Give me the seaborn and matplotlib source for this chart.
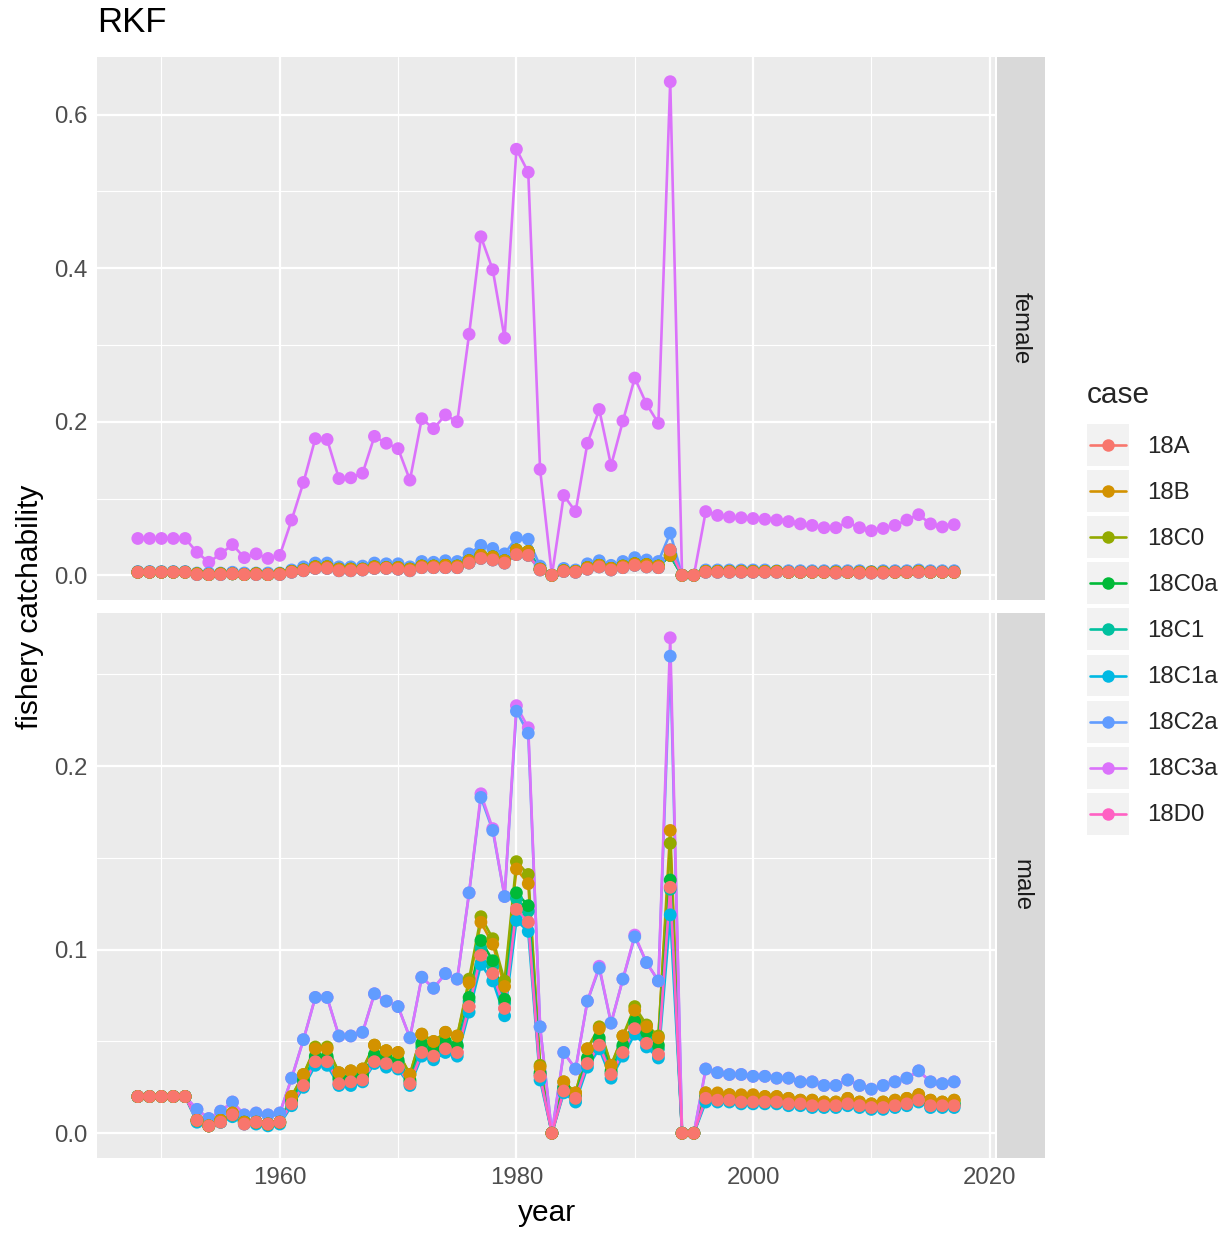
import numpy as np
import pandas as pd
import matplotlib
matplotlib.use("Agg")
import matplotlib.pyplot as plt
import seaborn as sns
from matplotlib.legend_handler import HandlerBase
from matplotlib.lines import Line2D
from matplotlib.patches import Rectangle
from matplotlib.ticker import FixedLocator

# años y casos
years = list(range(1948, 2018))
cases = ["18A", "18B", "18C0", "18C0a", "18C1", "18C1a", "18C2a", "18C3a", "18D0"]
colours = ["#F8766D", "#D39200", "#93AA00", "#00BA38", "#00C19F",
           "#00B9E3", "#619CFF", "#DB72FB", "#FF61C3"]

# hembras
f_18C3a = [0.048, 0.048, 0.048, 0.048, 0.048,
           0.030, 0.017, 0.028, 0.040, 0.023, 0.028, 0.022, 0.026,
           0.072, 0.121, 0.178, 0.177, 0.126, 0.127, 0.133, 0.181, 0.172, 0.165,
           0.124, 0.204, 0.191, 0.209, 0.200, 0.314, 0.441, 0.398, 0.309, 0.555,
           0.525, 0.138, 0.000, 0.104, 0.083, 0.172, 0.216, 0.143, 0.201, 0.257,
           0.223, 0.198, 0.643, 0.000, 0.000, 0.083, 0.078, 0.076, 0.075, 0.074,
           0.073, 0.072, 0.070, 0.067, 0.065, 0.062, 0.062, 0.069, 0.062, 0.058,
           0.061, 0.065, 0.072, 0.079, 0.067, 0.063, 0.066]
f_18C2a = [0.005, 0.005, 0.005, 0.005, 0.005,
           0.003, 0.003, 0.003, 0.004, 0.003, 0.003, 0.003, 0.003,
           0.007, 0.011, 0.016, 0.016, 0.011, 0.011, 0.012, 0.016, 0.015, 0.015,
           0.011, 0.018, 0.017, 0.019, 0.018, 0.028, 0.039, 0.035, 0.028, 0.049,
           0.047, 0.012, 0.000, 0.009, 0.007, 0.015, 0.019, 0.013, 0.018, 0.023,
           0.020, 0.018, 0.055, 0.000, 0.000, 0.007, 0.007, 0.007, 0.007, 0.007,
           0.007, 0.006, 0.006, 0.006, 0.006, 0.006, 0.006, 0.006, 0.006, 0.005,
           0.006, 0.006, 0.006, 0.007, 0.006, 0.006, 0.006]
f_18B = [0.004, 0.004, 0.004, 0.004, 0.004,
         0.002, 0.001, 0.002, 0.002, 0.001, 0.002, 0.001, 0.002,
         0.005, 0.007, 0.011, 0.011, 0.008, 0.008, 0.008, 0.011, 0.010, 0.010,
         0.008, 0.012, 0.012, 0.013, 0.012, 0.019, 0.026, 0.024, 0.019, 0.033,
         0.031, 0.008, 0.000, 0.006, 0.005, 0.010, 0.013, 0.009, 0.012, 0.015,
         0.014, 0.012, 0.026, 0.000, 0.000, 0.005, 0.005, 0.005, 0.005, 0.005,
         0.005, 0.005, 0.004, 0.004, 0.004, 0.004, 0.004, 0.004, 0.004, 0.004,
         0.004, 0.004, 0.004, 0.005, 0.004, 0.004, 0.004]
f_18A = [0.004, 0.004, 0.004, 0.004, 0.004,
         0.001, 0.001, 0.001, 0.002, 0.001, 0.001, 0.001, 0.001,
         0.004, 0.006, 0.009, 0.009, 0.006, 0.006, 0.007, 0.009, 0.009, 0.008,
         0.006, 0.010, 0.010, 0.010, 0.010, 0.016, 0.022, 0.020, 0.016, 0.027,
         0.026, 0.007, 0.000, 0.005, 0.004, 0.008, 0.011, 0.007, 0.010, 0.013,
         0.011, 0.010, 0.033, 0.000, 0.000, 0.004, 0.004, 0.004, 0.004, 0.004,
         0.004, 0.004, 0.004, 0.004, 0.004, 0.004, 0.003, 0.004, 0.003, 0.003,
         0.003, 0.004, 0.004, 0.004, 0.004, 0.004, 0.004]

# machos
m_18C3a = [0.020, 0.020, 0.020, 0.020, 0.020,
           0.013, 0.008, 0.012, 0.017, 0.010, 0.011, 0.010, 0.011,
           0.030, 0.051, 0.074, 0.074, 0.053, 0.053, 0.055, 0.076, 0.072, 0.069,
           0.052, 0.085, 0.079, 0.087, 0.084, 0.131, 0.185, 0.166, 0.129, 0.233,
           0.221, 0.058, 0.000, 0.044, 0.035, 0.072, 0.091, 0.060, 0.084, 0.108,
           0.093, 0.083, 0.270, 0.000, 0.000, 0.035, 0.033, 0.032, 0.032, 0.031,
           0.031, 0.030, 0.030, 0.028, 0.028, 0.026, 0.026, 0.029, 0.026, 0.024,
           0.026, 0.028, 0.030, 0.034, 0.028, 0.027, 0.028]
m_18C2a = [0.020, 0.020, 0.020, 0.020, 0.020,
           0.013, 0.008, 0.012, 0.017, 0.010, 0.011, 0.010, 0.011,
           0.030, 0.051, 0.074, 0.074, 0.053, 0.053, 0.055, 0.076, 0.072, 0.069,
           0.052, 0.085, 0.079, 0.087, 0.084, 0.131, 0.183, 0.165, 0.129, 0.230,
           0.218, 0.058, 0.000, 0.044, 0.035, 0.072, 0.090, 0.060, 0.084, 0.107,
           0.093, 0.083, 0.260, 0.000, 0.000, 0.035, 0.033, 0.032, 0.032, 0.031,
           0.031, 0.030, 0.030, 0.028, 0.028, 0.026, 0.026, 0.029, 0.026, 0.024,
           0.026, 0.028, 0.030, 0.034, 0.028, 0.027, 0.028]
m_18C0 = [0.020, 0.020, 0.020, 0.020, 0.020,
          0.007, 0.004, 0.007, 0.011, 0.006, 0.006, 0.005, 0.006,
          0.020, 0.032, 0.047, 0.047, 0.033, 0.034, 0.035, 0.048, 0.045, 0.044,
          0.032, 0.054, 0.050, 0.055, 0.053, 0.084, 0.118, 0.106, 0.083, 0.148,
          0.141, 0.037, 0.000, 0.028, 0.022, 0.046, 0.058, 0.037, 0.053, 0.069,
          0.059, 0.053, 0.158, 0.000, 0.000, 0.022, 0.021, 0.021, 0.020, 0.020,
          0.020, 0.020, 0.019, 0.018, 0.018, 0.017, 0.017, 0.019, 0.017, 0.016,
          0.017, 0.018, 0.019, 0.021, 0.018, 0.017, 0.018]
m_18B = [0.020, 0.020, 0.020, 0.020, 0.020,
         0.007, 0.004, 0.007, 0.011, 0.006, 0.006, 0.005, 0.006,
         0.020, 0.032, 0.046, 0.046, 0.033, 0.034, 0.035, 0.048, 0.045, 0.044,
         0.032, 0.054, 0.050, 0.055, 0.053, 0.082, 0.115, 0.103, 0.080, 0.144,
         0.136, 0.036, 0.000, 0.028, 0.022, 0.046, 0.057, 0.037, 0.053, 0.067,
         0.058, 0.052, 0.165, 0.000, 0.000, 0.022, 0.022, 0.021, 0.021, 0.021,
         0.020, 0.020, 0.019, 0.018, 0.018, 0.017, 0.017, 0.019, 0.017, 0.016,
         0.017, 0.018, 0.019, 0.021, 0.018, 0.017, 0.018]
m_18C0a = [0.020, 0.020, 0.020, 0.020, 0.020,
           0.007, 0.004, 0.007, 0.010, 0.006, 0.006, 0.005, 0.006,
           0.018, 0.029, 0.042, 0.042, 0.030, 0.030, 0.032, 0.043, 0.041, 0.040,
           0.029, 0.049, 0.046, 0.050, 0.048, 0.074, 0.105, 0.094, 0.073, 0.131,
           0.124, 0.033, 0.000, 0.025, 0.020, 0.041, 0.052, 0.034, 0.048, 0.061,
           0.055, 0.048, 0.138, 0.000, 0.000, 0.020, 0.020, 0.019, 0.019, 0.019,
           0.018, 0.018, 0.018, 0.017, 0.016, 0.016, 0.016, 0.017, 0.016, 0.015,
           0.015, 0.016, 0.017, 0.019, 0.016, 0.016, 0.016]
m_18C1 = [0.020, 0.020, 0.020, 0.020, 0.020,
          0.007, 0.004, 0.006, 0.010, 0.006, 0.006, 0.005, 0.006,
          0.017, 0.028, 0.041, 0.041, 0.029, 0.029, 0.031, 0.042, 0.040, 0.039,
          0.028, 0.047, 0.045, 0.049, 0.047, 0.072, 0.101, 0.091, 0.071, 0.128,
          0.121, 0.032, 0.000, 0.024, 0.019, 0.040, 0.050, 0.033, 0.047, 0.060,
          0.052, 0.046, 0.133, 0.000, 0.000, 0.019, 0.019, 0.018, 0.018, 0.018,
          0.017, 0.017, 0.017, 0.016, 0.016, 0.015, 0.015, 0.017, 0.015, 0.014,
          0.015, 0.016, 0.017, 0.018, 0.016, 0.015, 0.016]
m_18A = [0.020, 0.020, 0.020, 0.020, 0.020,
         0.007, 0.004, 0.006, 0.010, 0.005, 0.006, 0.005, 0.006,
         0.016, 0.026, 0.039, 0.039, 0.027, 0.028, 0.029, 0.039, 0.038, 0.036,
         0.027, 0.044, 0.042, 0.046, 0.044, 0.069, 0.097, 0.087, 0.068, 0.122,
         0.115, 0.031, 0.000, 0.023, 0.019, 0.038, 0.048, 0.032, 0.044, 0.057,
         0.049, 0.043, 0.134, 0.000, 0.000, 0.019, 0.018, 0.018, 0.017, 0.017,
         0.017, 0.017, 0.016, 0.016, 0.015, 0.015, 0.015, 0.016, 0.015, 0.014,
         0.014, 0.015, 0.016, 0.018, 0.015, 0.015, 0.015]
m_18C1a = [0.020, 0.020, 0.020, 0.020, 0.020,
           0.006, 0.004, 0.006, 0.009, 0.005, 0.005, 0.004, 0.005,
           0.015, 0.025, 0.037, 0.037, 0.026, 0.026, 0.028, 0.038, 0.036, 0.035,
           0.026, 0.042, 0.040, 0.044, 0.042, 0.066, 0.092, 0.083, 0.064, 0.116,
           0.110, 0.029, 0.000, 0.022, 0.017, 0.036, 0.046, 0.030, 0.042, 0.054,
           0.047, 0.041, 0.119, 0.000, 0.000, 0.017, 0.017, 0.017, 0.016, 0.016,
           0.016, 0.016, 0.015, 0.015, 0.014, 0.014, 0.014, 0.015, 0.014, 0.013,
           0.013, 0.014, 0.015, 0.017, 0.014, 0.014, 0.014]

female = {"18A": f_18A, "18B": f_18B, "18C0": f_18B, "18C0a": f_18B, "18C1": f_18B,
          "18C1a": f_18A, "18C2a": f_18C2a, "18C3a": f_18C3a, "18D0": f_18A}
male = {"18A": m_18A, "18B": m_18B, "18C0": m_18C0, "18C0a": m_18C0a, "18C1": m_18C1,
        "18C1a": m_18C1a, "18C2a": m_18C2a, "18C3a": m_18C3a, "18D0": m_18A}

rows = []
for sex, tabla in (("female", female), ("male", male)):
    for case in cases:
        for yr, v in zip(years, tabla[case]):
            rows.append((sex, case, yr, v))
df = pd.DataFrame(rows, columns=["sex", "case", "year", "q"])
palette = dict(zip(cases, colours))

sns.set_theme(style="white")
plt.rcParams["font.family"] = ["Liberation Sans", "DejaVu Sans"]

W, H = 1230, 1234
fig = plt.figure(figsize=(W / 100, H / 100), dpi=100)


def fx(px):
    return px / W


def fy(py):
    return 1 - py / H


panels = [("female", 57, 600, [0, 0.2, 0.4, 0.6], [0.1, 0.3, 0.5]),
          ("male", 613, 1158, [0, 0.1, 0.2], [0.05, 0.15, 0.25])]

for i, (sex, top, bot, yt, ymin) in enumerate(panels):
    ax = fig.add_axes([fx(97), fy(bot), fx(995) - fx(97), (bot - top) / H])
    sub = df[df.sex == sex]
    sns.lineplot(data=sub, x="year", y="q", hue="case", hue_order=cases,
                 palette=palette, lw=1.9, legend=False, ax=ax, estimator=None)
    # puntos en orden inverso: 18A queda encima
    sns.scatterplot(data=sub.iloc[::-1], x="year", y="q", hue="case", hue_order=cases,
                    palette=palette, s=85, linewidth=0, legend=False, ax=ax, zorder=3)
    ymax = sub.q.max()
    ax.set_ylim(-0.05 * ymax, 1.05 * ymax)
    ax.set_xlim(1944.55, 2020.45)
    ax.set_facecolor("#EBEBEB")
    for s in ax.spines.values():
        s.set_visible(False)
    ax.yaxis.set_major_locator(FixedLocator(yt))
    ax.yaxis.set_minor_locator(FixedLocator(ymin))
    ax.set_yticklabels([f"{t:.1f}" for t in yt])
    ax.xaxis.set_major_locator(FixedLocator([1960, 1980, 2000, 2020]))
    ax.xaxis.set_minor_locator(FixedLocator([1950, 1970, 1990, 2010]))
    ax.grid(which="major", color="white", lw=1.6)
    ax.grid(which="minor", color="white", lw=0.8)
    ax.set_axisbelow(True)
    ax.tick_params(which="major", length=3.2, width=1.1, color="#333333",
                   labelcolor="#4D4D4D", labelsize=17.3, pad=3.5)
    ax.tick_params(which="minor", length=0)
    ax.set_xlabel("")
    ax.set_ylabel("")
    if i == 0:
        ax.tick_params(axis="x", which="both", bottom=False, labelbottom=False)

    # tira de la faceta
    st = fig.add_axes([fx(997), fy(bot), fx(1045) - fx(997), (bot - top) / H])
    st.set_facecolor("#D9D9D9")
    st.set_xticks([])
    st.set_yticks([])
    for s in st.spines.values():
        s.set_visible(False)
    st.text(0.5, 0.5, sex, rotation=270, ha="center", va="center",
            fontsize=17.3, color="#1A1A1A", transform=st.transAxes)

fig.text(fx(97), fy(23), "RKF", fontsize=25, ha="left", va="center", color="black")
fig.text(fx(547), fy(1213), "year", fontsize=21.5, ha="center", va="center", color="black")
fig.text(fx(30), fy(607), "fishery catchability", fontsize=21.5, rotation=90,
         ha="center", va="center", color="black")


class KeyBox(HandlerBase):
    def create_artists(self, legend, orig_handle, xdescent, ydescent, width, height, fontsize, trans):
        c = orig_handle.get_color()
        box = Rectangle((-xdescent, -ydescent), width, height, facecolor="#F2F2F2",
                        edgecolor="none", transform=trans)
        ym = -ydescent + height / 2
        line = Line2D([-xdescent + 0.08 * width, -xdescent + 0.92 * width], [ym, ym],
                      color=c, lw=1.9, transform=trans)
        dot = Line2D([-xdescent + width / 2], [ym], marker="o", ms=9, mec="none",
                     color=c, ls="none", transform=trans)
        return [box, line, dot]


handles = [Line2D([], [], color=c) for c in colours]
leg = fig.legend(handles, cases, handler_map={Line2D: KeyBox()}, loc="upper left",
                 bbox_to_anchor=(fx(1087), fy(381)), frameon=False, borderpad=0,
                 borderaxespad=0, title="case", title_fontsize=21.5, fontsize=17.3,
                 handlelength=1.75, handleheight=2.31, handletextpad=0.75,
                 labelspacing=0.17, alignment="left")
# mas espacio entre el titulo y las claves
leg._legend_box.sep = 11

fig.savefig("out.png", dpi=100)
